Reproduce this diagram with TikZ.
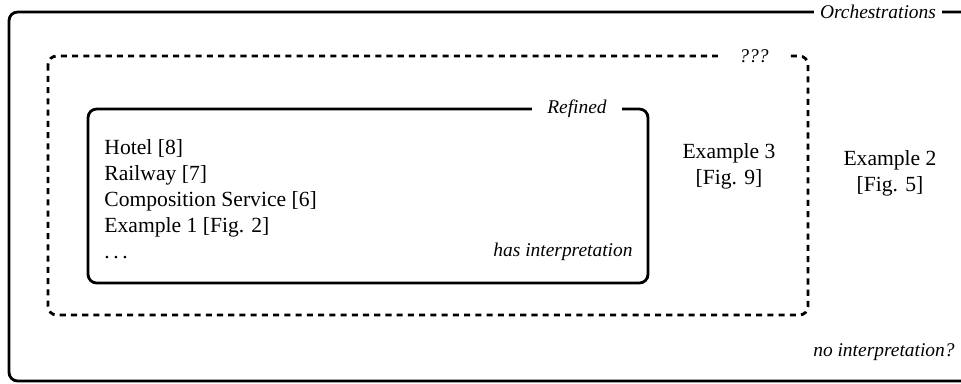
\documentclass[tikz,border=0pt]{standalone}
\usepackage{fontspec}
\setmainfont{Liberation Serif}
\usepackage{tikz}
\usetikzlibrary{positioning}

\begin{document}
\begin{tikzpicture}[
  x=0.463pt, y=-0.463pt,
  region/.style={draw, line width=1.3pt, rounded corners=4pt},
  open region/.style={region, dash pattern=on 2.8pt off 2.4pt},
  tag/.style={fill=white, font=\small\itshape, inner xsep=7pt, inner ysep=1pt},
  note/.style={font=\small\itshape, inner sep=0pt},
  entry/.style={align=center, inner sep=0pt}
]
\clip (0,0) rectangle (961,383);

% nested regions
\draw[region] (9,12) rectangle (985,381);
\draw[open region] (48,56) rectangle (808,315);
\draw[region] (88,109) rectangle (648,283);

% region labels
\node[tag, inner xsep=3pt] (orch) at (878,12) {Orchestrations};
\node[tag, inner xsep=10pt] (unknown) at (754,56) {???};
\node[tag] (refined) at (577,109) {Refined};

% refined contents
\node[align=left, anchor=north west, inner sep=0pt] (known) at (104,139)
  {Hotel [8]\\Railway [7]\\Composition Service [6]\\Example 1 [Fig. 2]\\.\,.\,.};
\node[note, anchor=base east] (has) at (633,256) {has interpretation};

\node[entry] (ex3) at (729,166) {Example 3\\{}[Fig. 9]};
\node[entry] (ex2) at (890,173) {Example 2\\{}[Fig. 5]};
\node[note, anchor=base east] (none) at (955,356) {no interpretation?};
\end{tikzpicture}
\end{document}
